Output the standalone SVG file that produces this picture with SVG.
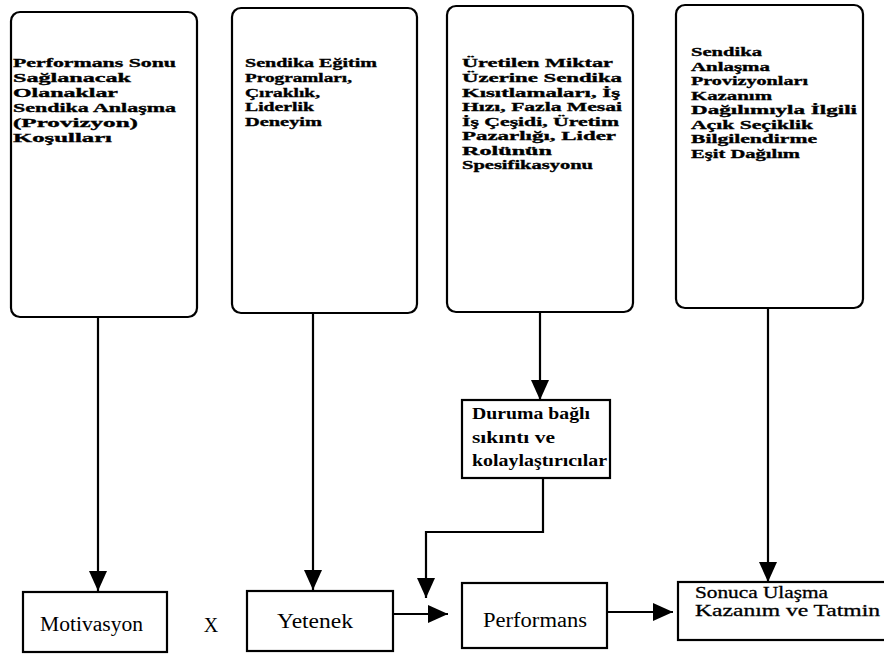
<svg xmlns="http://www.w3.org/2000/svg" width="884" height="658" viewBox="0 0 884 658">
<style>
.box{fill:#fff;stroke:#000;stroke-width:2.2}
.t{font-family:"Liberation Serif","Times New Roman",serif;font-size:13.5px;font-weight:bold;fill:#000;stroke:#000;stroke-width:0.35}
.d{font-family:"Liberation Serif","Times New Roman",serif;font-size:17px;font-weight:bold;fill:#000}
.r{font-family:"Liberation Serif","Times New Roman",serif;font-size:20px;fill:#000}
.s{font-family:"Liberation Serif","Times New Roman",serif;font-size:16px;fill:#000;stroke:#000;stroke-width:0.3}
.c{fill:none;stroke:#000;stroke-width:2.2}
</style>
<defs>
<marker id="ah" markerUnits="userSpaceOnUse" markerWidth="20" markerHeight="18" refX="20" refY="9" orient="auto">
<path d="M0,0 L20,9 L0,18 z" fill="#000"/>
</marker>
</defs>
<rect width="884" height="658" fill="#fff"/>
<g id="n1">
<rect class="box" x="11" y="12" width="186" height="305" rx="9"/>
<g class="t">
<text x="13" y="67" textLength="163" lengthAdjust="spacingAndGlyphs">Performans Sonu</text>
<text x="13" y="82" textLength="118" lengthAdjust="spacingAndGlyphs">Sağlanacak</text>
<text x="13" y="97" textLength="105" lengthAdjust="spacingAndGlyphs">Olanaklar</text>
<text x="13" y="112" textLength="163" lengthAdjust="spacingAndGlyphs">Sendika Anlaşma</text>
<text x="13" y="127" textLength="125" lengthAdjust="spacingAndGlyphs">(Provizyon)</text>
<text x="13" y="142" textLength="99" lengthAdjust="spacingAndGlyphs">Koşulları</text>
</g>
</g>
<g id="n2">
<rect class="box" x="232" y="8" width="185" height="305" rx="9"/>
<g class="t">
<text x="245" y="67" textLength="132" lengthAdjust="spacingAndGlyphs">Sendika Eğitim</text>
<text x="245" y="82" textLength="107" lengthAdjust="spacingAndGlyphs">Programları,</text>
<text x="245" y="97" textLength="75" lengthAdjust="spacingAndGlyphs">Çıraklık,</text>
<text x="245" y="111" textLength="69" lengthAdjust="spacingAndGlyphs">Liderlik</text>
<text x="245" y="126" textLength="77" lengthAdjust="spacingAndGlyphs">Deneyim</text>
</g>
</g>
<g id="n3">
<rect class="box" x="447" y="6" width="186" height="306" rx="9"/>
<g class="t">
<text x="462" y="67" textLength="151" lengthAdjust="spacingAndGlyphs">Üretilen Miktar</text>
<text x="462" y="82" textLength="160" lengthAdjust="spacingAndGlyphs">Üzerine Sendika</text>
<text x="462" y="96.5" textLength="158" lengthAdjust="spacingAndGlyphs">Kısıtlamaları, İş</text>
<text x="462" y="111" textLength="160" lengthAdjust="spacingAndGlyphs">Hızı, Fazla Mesai</text>
<text x="462" y="125.5" textLength="157" lengthAdjust="spacingAndGlyphs">İş Çeşidi, Üretim</text>
<text x="462" y="140" textLength="154" lengthAdjust="spacingAndGlyphs">Pazarlığı, Lider</text>
<text x="462" y="154.5" textLength="90" lengthAdjust="spacingAndGlyphs">Rolünün</text>
<text x="462" y="169" textLength="131" lengthAdjust="spacingAndGlyphs">Spesifikasyonu</text>
</g>
</g>
<g id="n4">
<rect class="box" x="676" y="5" width="187" height="303" rx="9"/>
<g class="t">
<text x="691" y="56" textLength="71" lengthAdjust="spacingAndGlyphs">Sendika</text>
<text x="691" y="70.5" textLength="79" lengthAdjust="spacingAndGlyphs">Anlaşma</text>
<text x="691" y="85" textLength="117" lengthAdjust="spacingAndGlyphs">Provizyonları</text>
<text x="691" y="99.5" textLength="81" lengthAdjust="spacingAndGlyphs">Kazanım</text>
<text x="691" y="114" textLength="166" lengthAdjust="spacingAndGlyphs">Dağılımıyla İlgili</text>
<text x="691" y="128.5" textLength="122" lengthAdjust="spacingAndGlyphs">Açık Seçiklik</text>
<text x="691" y="143" textLength="126" lengthAdjust="spacingAndGlyphs">Bilgilendirme</text>
<text x="691" y="157.5" textLength="109" lengthAdjust="spacingAndGlyphs">Eşit Dağılım</text>
</g>
</g>
<g id="n5">
<rect class="box" x="462" y="400" width="148" height="78"/>
<g class="d">
<text x="472" y="419" textLength="118" lengthAdjust="spacingAndGlyphs">Duruma bağlı</text>
<text x="472" y="443" textLength="83" lengthAdjust="spacingAndGlyphs">sıkıntı ve</text>
<text x="472" y="466" textLength="135" lengthAdjust="spacingAndGlyphs">kolaylaştırıcılar</text>
</g>
</g>
<g id="n6">
<rect class="box" x="23" y="592" width="144" height="60"/>
<text class="r" x="40" y="631" textLength="103" lengthAdjust="spacingAndGlyphs">Motivasyon</text>
</g>
<g id="x">
<text class="r" x="211" y="632" text-anchor="middle">X</text>
</g>
<g id="n7">
<rect class="box" x="247" y="591" width="146" height="60"/>
<text class="r" x="277" y="628" textLength="76" lengthAdjust="spacingAndGlyphs">Yetenek</text>
</g>
<g id="n8">
<rect class="box" x="462" y="583" width="145" height="65"/>
<text class="r" x="483" y="627" textLength="104" lengthAdjust="spacingAndGlyphs">Performans</text>
</g>
<g id="n9">
<rect class="box" x="678" y="582" width="215" height="58"/>
<text class="s" x="695" y="598" textLength="133" lengthAdjust="spacingAndGlyphs">Sonuca Ulaşma</text>
<text class="s" x="695" y="616" textLength="185" lengthAdjust="spacingAndGlyphs">Kazanım ve Tatmin</text>
</g>
<g id="connectors">
<path class="c" d="M98,317 V591" marker-end="url(#ah)"/>
<path class="c" d="M313,313 V590" marker-end="url(#ah)"/>
<path class="c" d="M540,312 V400" marker-end="url(#ah)"/>
<path class="c" d="M768,308 V582" marker-end="url(#ah)"/>
<path class="c" d="M543,478 V532 H426 V598" marker-end="url(#ah)"/>
<path class="c" d="M393,614 H448" marker-end="url(#ah)"/>
<path class="c" d="M607,612 H673" marker-end="url(#ah)"/>
</g>
</svg>
